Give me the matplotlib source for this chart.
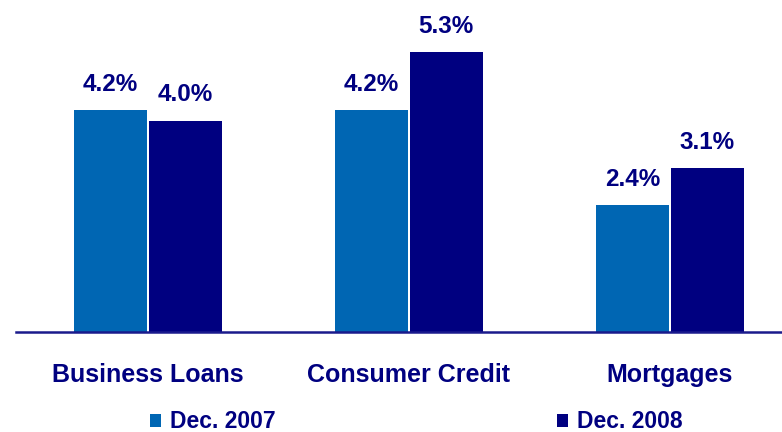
import matplotlib

matplotlib.use("Agg")
import matplotlib.pyplot as plt
import numpy as np

categories = ["Business Loans", "Consumer Credit", "Mortgages"]
series_names = ["Dec. 2007", "Dec. 2008"]
dec_2007 = [4.2, 4.2, 2.4]
dec_2008 = [4.0, 5.3, 3.1]

LIGHT = "#0066b3"
NAVY = "#000080"

plt.rcParams["font.family"] = ["Liberation Sans", "DejaVu Sans"]

fig = plt.figure(figsize=(7.82, 4.32), dpi=100)
ax = fig.add_axes([16 / 782, 1 - 332 / 432, 1 - 16 / 782, 332 / 432])

x = np.arange(len(categories))
width = 0.28
offset = 0.143
bars_a = ax.bar(x - offset, dec_2007, width, color=LIGHT, label=series_names[0])
bars_b = ax.bar(x + offset, dec_2008, width, color=NAVY, label=series_names[1])

for bars in (bars_a, bars_b):
    for rect in bars:
        h = rect.get_height()
        ax.annotate(f"{h:.1f}%", (rect.get_x() + rect.get_width() / 2, h),
                    xytext=(0, 14), textcoords="offset points",
                    ha="center", va="baseline", fontsize=17.5,
                    fontweight="bold", color=NAVY)

ax.set_xlim(-0.505, 2.43)
ax.set_ylim(0, 6.29)
ax.set_xticks(x)
ax.set_xticklabels(categories, fontsize=18, fontweight="bold", color=NAVY)
ax.tick_params(axis="x", length=0, pad=22)
ax.set_yticks([])
for side in ("left", "right", "top"):
    ax.spines[side].set_visible(False)
ax.spines["bottom"].set_color("#1a1a8c")
ax.spines["bottom"].set_linewidth(1.8)

leg = fig.legend(handles=[bars_a, bars_b], labels=series_names, ncol=2,
                 loc="center left", bbox_to_anchor=(150 / 782, 1 - 422 / 432),
                 frameon=False, fontsize=16.5, handlelength=0.47, handleheight=0.5,
                 handletextpad=0.4, columnspacing=12.3, borderaxespad=0,
                 borderpad=0)
for t in leg.get_texts():
    t.set_color(NAVY)
    t.set_fontweight("bold")

fig.savefig("out.png", dpi=100)
